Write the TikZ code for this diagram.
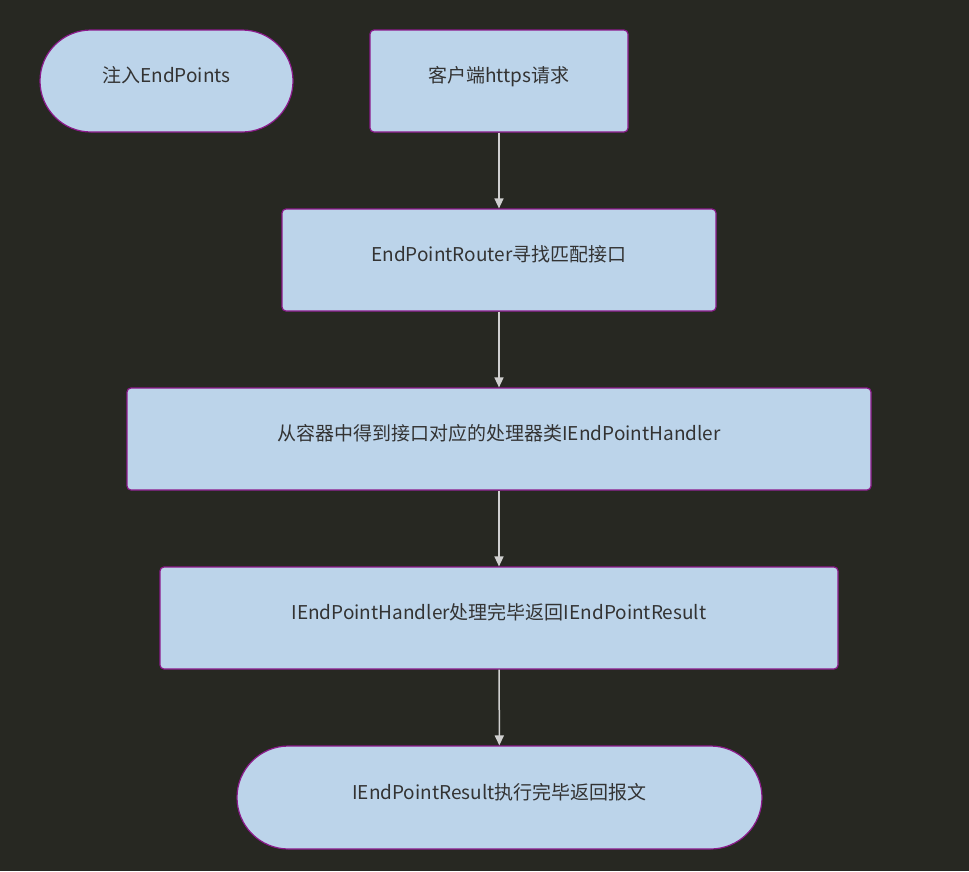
\documentclass[tikz,border=0pt]{standalone}
\usepackage{fontspec}
\setmainfont{Noto Sans CJK SC}
\usetikzlibrary{arrows.meta,shapes.misc}
\definecolor{bg}{HTML}{272822}
\definecolor{boxfill}{HTML}{BCD4EA}
\definecolor{boxline}{HTML}{8B1A8B}
\definecolor{txt}{HTML}{333333}
\definecolor{arr}{HTML}{D0D0D0}
\tikzset{
  base/.style={draw=boxline,fill=boxfill,line width=1.2pt,text=txt,font=\fontsize{19}{22}\selectfont,inner sep=0pt,minimum height=102pt},
  rbox/.style={base,rectangle,rounded corners=4pt},
  sbox/.style={base,rounded rectangle},
  conn/.style={draw=arr,line width=1.5pt,-{Triangle[length=10pt,width=9pt]}}
}
\newcommand{\up}[1]{\raisebox{13pt}{#1}}
\begin{document}
\begin{tikzpicture}[x=1pt,y=-1pt]
\fill[bg] (0,0) rectangle (969,871);
\useasboundingbox (0,0) rectangle (969,871);
\node[sbox,minimum width=253pt] (inj) at (166.5,81) {\up{注入EndPoints}};
\node[rbox,minimum width=258pt] (req) at (499,81) {\up{客户端https请求}};
\node[rbox,minimum width=434pt] (router) at (499,260) {\up{EndPointRouter寻找匹配接口}};
\node[rbox,minimum width=744pt] (cont) at (499,439) {\up{从容器中得到接口对应的处理器类IEndPointHandler}};
\node[rbox,minimum width=678pt] (hand) at (499,618) {\up{IEndPointHandler处理完毕返回IEndPointResult}};
\node[sbox,minimum width=525pt,minimum height=103pt] (res) at (499.5,797.5) {\up{IEndPointResult执行完毕返回报文}};
\draw[conn] (req) -- (router);
\draw[conn] (router) -- (cont);
\draw[conn] (cont) -- (hand);
\draw[conn] (hand) -- (res);
\end{tikzpicture}
\end{document}
